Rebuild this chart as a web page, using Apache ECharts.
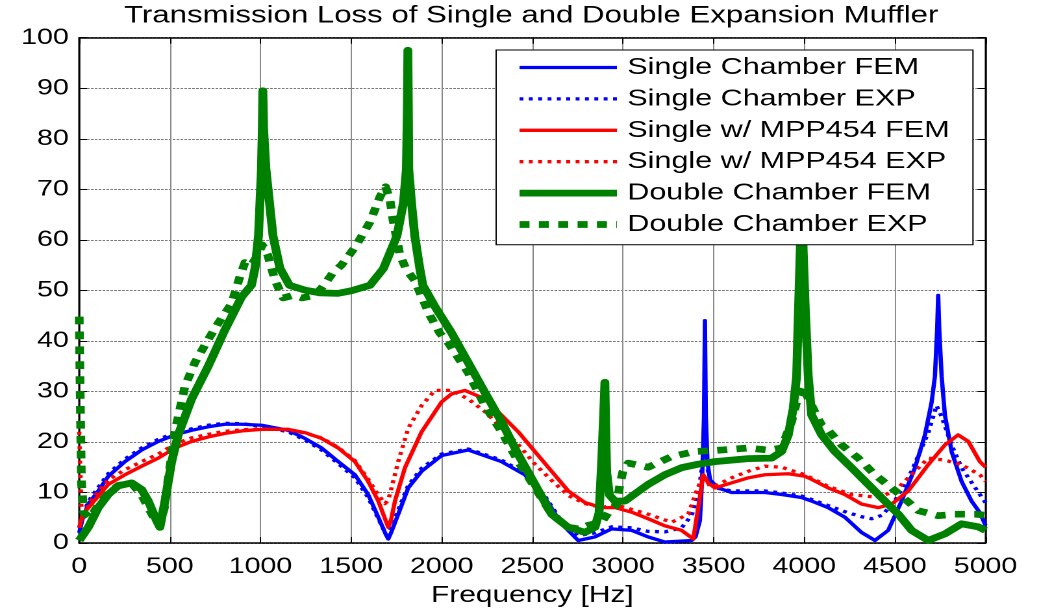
<!DOCTYPE html>
<html>
<head>
<meta charset="utf-8">
<script src="https://cdn.jsdelivr.net/npm/echarts@6/dist/echarts.min.js"></script>
<style>
html,body{margin:0;padding:0;background:#fff;overflow:hidden;}
/* the reference figure is a horizontally stretched plot: reproduce that stretch */
#chart{width:800px;height:612px;transform:scaleX(1.29875);transform-origin:0 0;}
</style>
</head>
<body>
<div id="chart"></div>
<script>
// ---- data ----
const titleText = 'Transmission Loss of Single and Double Expansion Muffler';
const xAxisName = 'Frequency [Hz]';
const seriesNames = ['Single Chamber FEM','Single Chamber EXP','Single w/ MPP454 FEM','Single w/ MPP454 EXP','Double Chamber FEM','Double Chamber EXP'];

const singleFemFreq = [0,20,50,105,160,252,344,436,528,620,712,804,900,1006,1153,1245,1337,1429,1521,1594,1650,1690,1705,1720,1760,1815,1889,1999,2146,2330,2459,2569,2661,2753,2845,2937,3048,3139,3231,3379,3400,3424,3437,3447,3452,3457,3466,3480,3525,3599,3783,3875,3985,4041,4132,4224,4316,4390,4463,4537,4611,4666,4703,4721,4733,4739,4745,4758,4776,4813,4868,4923,4969,5000];
const singleFemTL   = [2,5,7.7,10.3,13.2,16.1,18.4,20.1,21.4,22.3,23,23.5,23.5,23.3,22.3,20.7,18.8,16.1,13.5,9.6,5.1,1.8,0.8,2,5.7,10.9,14.2,17.3,18.4,16.1,13.5,9,3.8,0.5,1.2,2.8,2.5,1.2,0.2,0.5,1.2,4.4,13,25,44,25,16,12.5,10.9,10,10,9.6,9,8.3,7,5.1,2.1,0.5,2.5,8.3,14.9,21.4,27.9,33,42,49,42,33,25.3,18.1,12.2,8.3,6,3.5];

const singleExpFreq = [0,20,50,105,160,252,344,436,528,620,712,804,900,1006,1153,1245,1337,1429,1521,1594,1650,1695,1720,1760,1815,1889,1999,2146,2330,2459,2569,2661,2753,2845,2937,3048,3139,3231,3323,3379,3415,3440,3455,3470,3489,3525,3599,3783,3875,3985,4041,4132,4224,4316,4372,4430,4500,4592,4684,4730,4758,4813,4868,4942,5000];
const singleExpTL   = [3,5.5,8.2,11,13.7,16.6,18.8,20.5,21.8,22.6,23.3,23.7,23.6,23.1,22,20.4,18.4,15.7,12.9,9,4.8,1.5,3,6.5,11.4,14.8,17.6,18.6,16.4,13.8,9.3,4.3,1.5,2,3.2,3,2.3,2.2,3,5.5,9.5,16,18.5,14,11.5,10.8,10.3,10.3,9.9,9.3,8.6,7.4,6.2,5.2,4.8,5.5,8.3,14.2,21.8,27.2,25,19.4,14.9,11,8];

const mppFemFreq = [0,20,68,160,252,344,436,528,620,712,804,900,1006,1153,1250,1337,1429,1521,1594,1650,1690,1705,1720,1742,1797,1889,1999,2054,2128,2238,2330,2422,2514,2606,2698,2790,2882,2955,3048,3139,3231,3323,3388,3415,3443,3470,3507,3599,3691,3783,3912,4004,4041,4132,4224,4316,4408,4482,4574,4684,4776,4849,4905,4969,5000];
const mppFemTL   = [3,5.7,7.7,11.6,13.5,15.2,16.8,18.8,20.1,21,21.7,22.2,22.5,22.5,21.8,20.7,18.8,16.1,12.2,8.3,4.5,3.1,4.5,8.3,14.9,22,27.9,29.5,30.2,28.5,25.3,22,18.1,14.2,10.3,8,7,7,6.1,4.8,3.4,2.5,0.8,7,13.5,11.9,10.9,11.9,12.9,13.5,13.7,13.2,12.6,10.9,9.6,7.7,7,7.7,10.3,15.5,19.4,21.4,20.1,16.1,15];

const mppExpFreq = [0,5,12,30,68,160,252,344,436,528,620,712,804,900,1006,1153,1250,1337,1429,1521,1594,1650,1687,1705,1720,1760,1815,1889,1962,2054,2146,2238,2330,2422,2514,2606,2698,2790,2882,2955,3139,3268,3360,3406,3443,3480,3520,3599,3691,3783,3875,4004,4132,4261,4408,4500,4592,4684,4776,4868,4969,5000];
const mppExpTL   = [22,15,7,6,8.5,12.5,14.5,16.1,17.6,19.6,20.8,21.5,22.1,22.4,22.6,22.4,21.7,20.8,18.9,16.3,12.6,9.5,7.8,8.5,10.5,16.1,22.7,27.2,30.2,30.2,28.5,26,22.8,19.5,15.6,12.4,9.4,7.8,7,7.6,5.7,4.1,5.7,10.3,13.5,11.2,11.5,12.9,14.2,15.2,15,13.5,11.2,9.6,9,10.3,13.5,16.8,16.4,15.5,13.5,12.2];

const doubleFemFreq = [0,50,105,160,215,289,344,381,427,445,473,510,546,620,712,804,896,950,970,989,1005,1010,1013,1017,1030,1069,1107,1160,1250,1330,1427,1500,1604,1678,1753,1789,1805,1810,1813,1816,1818,1833,1851,1879,1896,1962,2054,2146,2238,2330,2422,2514,2606,2698,2790,2845,2868,2881,2893,2900,2905,2910,2925,2955,3011,3139,3231,3323,3415,3507,3691,3820,3875,3912,3939,3958,3968,3978,3986,3994,4006,4022,4041,4096,4169,4261,4353,4445,4519,4592,4684,4776,4868,4960,5000];
const doubleFemTL   = [0.5,3.1,7,9.6,11.3,11.9,10.6,8.3,4.4,3.1,8.3,16.1,21.4,28.5,35,42.2,48.7,51,54.4,60.8,74,82,89.5,82,74,60.8,54.4,51,50,49.5,49.4,49.9,51,54.3,60.8,67.4,74,85,97.5,85,74,67.4,60.8,54.3,51,46.8,41.6,35.7,29.8,24,17.5,11.6,5.7,3.1,2.1,3.1,6,15,25,31.8,22,14,9.5,8.3,8.3,11.6,13.5,14.9,15.6,16.1,16.7,16.8,18.1,21.4,26.6,33,46,58,75,58,46,33,25.3,21.4,18.1,14.9,11.6,8.3,5.7,2.5,0.5,1.8,3.8,3.2,2.5];

const doubleExpFreq = [0,6,12,25,60,105,160,215,289,344,381,427,445,470,490,528,583,638,712,767,841,880,914,950,985,1010,1040,1080,1125,1180,1230,1300,1350,1400,1447,1521,1604,1659,1690,1714,1731,1769,1806,1850,1880,1935,1990,2036,2146,2238,2330,2422,2514,2606,2698,2753,2808,2882,2919,2965,2983,3000,3029,3139,3268,3397,3544,3691,3801,3875,3930,3967,3990,4041,4096,4132,4206,4298,4390,4482,4537,4629,4739,4831,4942,5000];
const doubleExpTL   = [44.8,28,12,6,5,7.5,9.8,11.4,11.8,9.5,7,4,3.5,7,12.5,22,31,35.7,40.3,43.5,47.4,52,55.5,55,57,59,57,52,48.5,49,48.5,49,51,53.5,55,58.5,63.5,68.5,70.5,68,64,57,54,52,49.5,45,41.5,39.6,33.7,27.2,22,16.1,11,5.7,3.1,2.8,3.5,4.1,6,7.5,11.6,14.2,15.8,15,17.1,18.1,18.4,18.8,18.4,18.8,24,29.2,31,27.2,23.3,22.3,19.4,16.8,13.5,10.9,9.3,6.4,5.4,5.7,5.7,5.5];

const xTicks = {min: 0, max: 5000, interval: 500};
const yTicks = {min: 0, max: 100, interval: 10};

// ---- build ----
function zip(fs, vs){ return fs.map((f,i)=>[f, vs[i]]); }
const FONT = '"Liberation Sans", Arial, sans-serif';
const BLUE = '#0000ff', RED = '#ff0000', GREEN = '#008000';

const chart = echarts.init(document.getElementById('chart'), null, {renderer:'canvas', devicePixelRatio: 2});

function lineSeries(name, data, color, width, type, z){
  return {
    name: name, type: 'line', data: data, symbol: 'none', showSymbol: false,
    smooth: false, animation: false, z: z, clip: true,
    lineStyle: {color: color, width: width, type: type, cap: 'butt', join: 'round'},
    itemStyle: {color: color},
    emphasis: {disabled: true}
  };
}

const option = {
  animation: false,
  backgroundColor: '#ffffff',
  title: {
    text: titleText, left: 404, top: -1, textAlign: 'center',
    textStyle: {fontFamily: FONT, fontSize: 24, fontWeight: 'normal', color: '#000'}
  },
  grid: {left: 61, right: 41.2, top: 37.7, bottom: 62.7, containLabel: false},
  legend: {
    orient: 'vertical', left: 382, top: 50,
    padding: [5.5, 18, 8.3, 14.6], itemGap: 7.4, itemWidth: 75, itemHeight: 14,
    backgroundColor: '#ffffff', borderColor: '#000', borderWidth: 1, borderRadius: 0,
    itemStyle: {opacity: 0},
    lineStyle: {width: 'inherit', type: 'inherit'},
    textStyle: {fontFamily: FONT, fontSize: 23.5, color: '#000', padding: [0,0,0,3]},
    data: seriesNames, z: 10
  },
  xAxis: [
    {
      type: 'value', min: xTicks.min, max: xTicks.max, interval: xTicks.interval, position: 'bottom',
      name: xAxisName, nameLocation: 'middle', nameGap: 41,
      nameTextStyle: {fontFamily: FONT, fontSize: 23, color: '#000'},
      axisLine: {show: true, onZero: false, lineStyle: {color: '#000', width: 1.5}},
      axisTick: {show: true, inside: true, length: 6, lineStyle: {color: '#000', width: 1}},
      axisLabel: {fontFamily: FONT, fontSize: 22, color: '#000', margin: 13, formatter: v => String(v)},
      splitLine: {show: true, lineStyle: {color: '#8a8a8a', width: 1, type: 'solid'}}
    },
    {
      type: 'value', min: xTicks.min, max: xTicks.max, interval: xTicks.interval, position: 'top',
      axisLine: {show: true, onZero: false, lineStyle: {color: '#000', width: 1.5}},
      axisTick: {show: true, inside: true, length: 6, lineStyle: {color: '#000', width: 1}},
      axisLabel: {show: false}, splitLine: {show: false}
    }
  ],
  yAxis: [
    {
      type: 'value', min: yTicks.min, max: yTicks.max, interval: yTicks.interval, position: 'left',
      axisLine: {show: true, onZero: false, lineStyle: {color: '#000', width: 1.5}},
      axisTick: {show: true, inside: true, length: 6, lineStyle: {color: '#000', width: 1}},
      axisLabel: {fontFamily: FONT, fontSize: 22, color: '#000', margin: 8},
      splitLine: {show: true, lineStyle: {color: '#7a7a7a', width: 1, type: [2, 1]}}
    },
    {
      type: 'value', min: yTicks.min, max: yTicks.max, interval: yTicks.interval, position: 'right',
      axisLine: {show: true, onZero: false, lineStyle: {color: '#000', width: 1.5}},
      axisTick: {show: true, inside: true, length: 6, lineStyle: {color: '#000', width: 1}},
      axisLabel: {show: false}, splitLine: {show: false}
    }
  ],
  series: [
    lineSeries(seriesNames[0], zip(singleFemFreq, singleFemTL), BLUE, 3.3, 'solid', 2),
    lineSeries(seriesNames[1], zip(singleExpFreq, singleExpTL), BLUE, 3.3, [3, 4.2], 2),
    lineSeries(seriesNames[2], zip(mppFemFreq, mppFemTL), RED, 3.3, 'solid', 2),
    lineSeries(seriesNames[3], zip(mppExpFreq, mppExpTL), RED, 3.3, [3, 4.2], 2),
    lineSeries(seriesNames[4], zip(doubleFemFreq, doubleFemTL), GREEN, 6.8, 'solid', 3),
    lineSeries(seriesNames[5], zip(doubleExpFreq, doubleExpTL), GREEN, 6.7, [7.7, 7.2], 3)
  ]
};
chart.setOption(option);
</script>
</body>
</html>
